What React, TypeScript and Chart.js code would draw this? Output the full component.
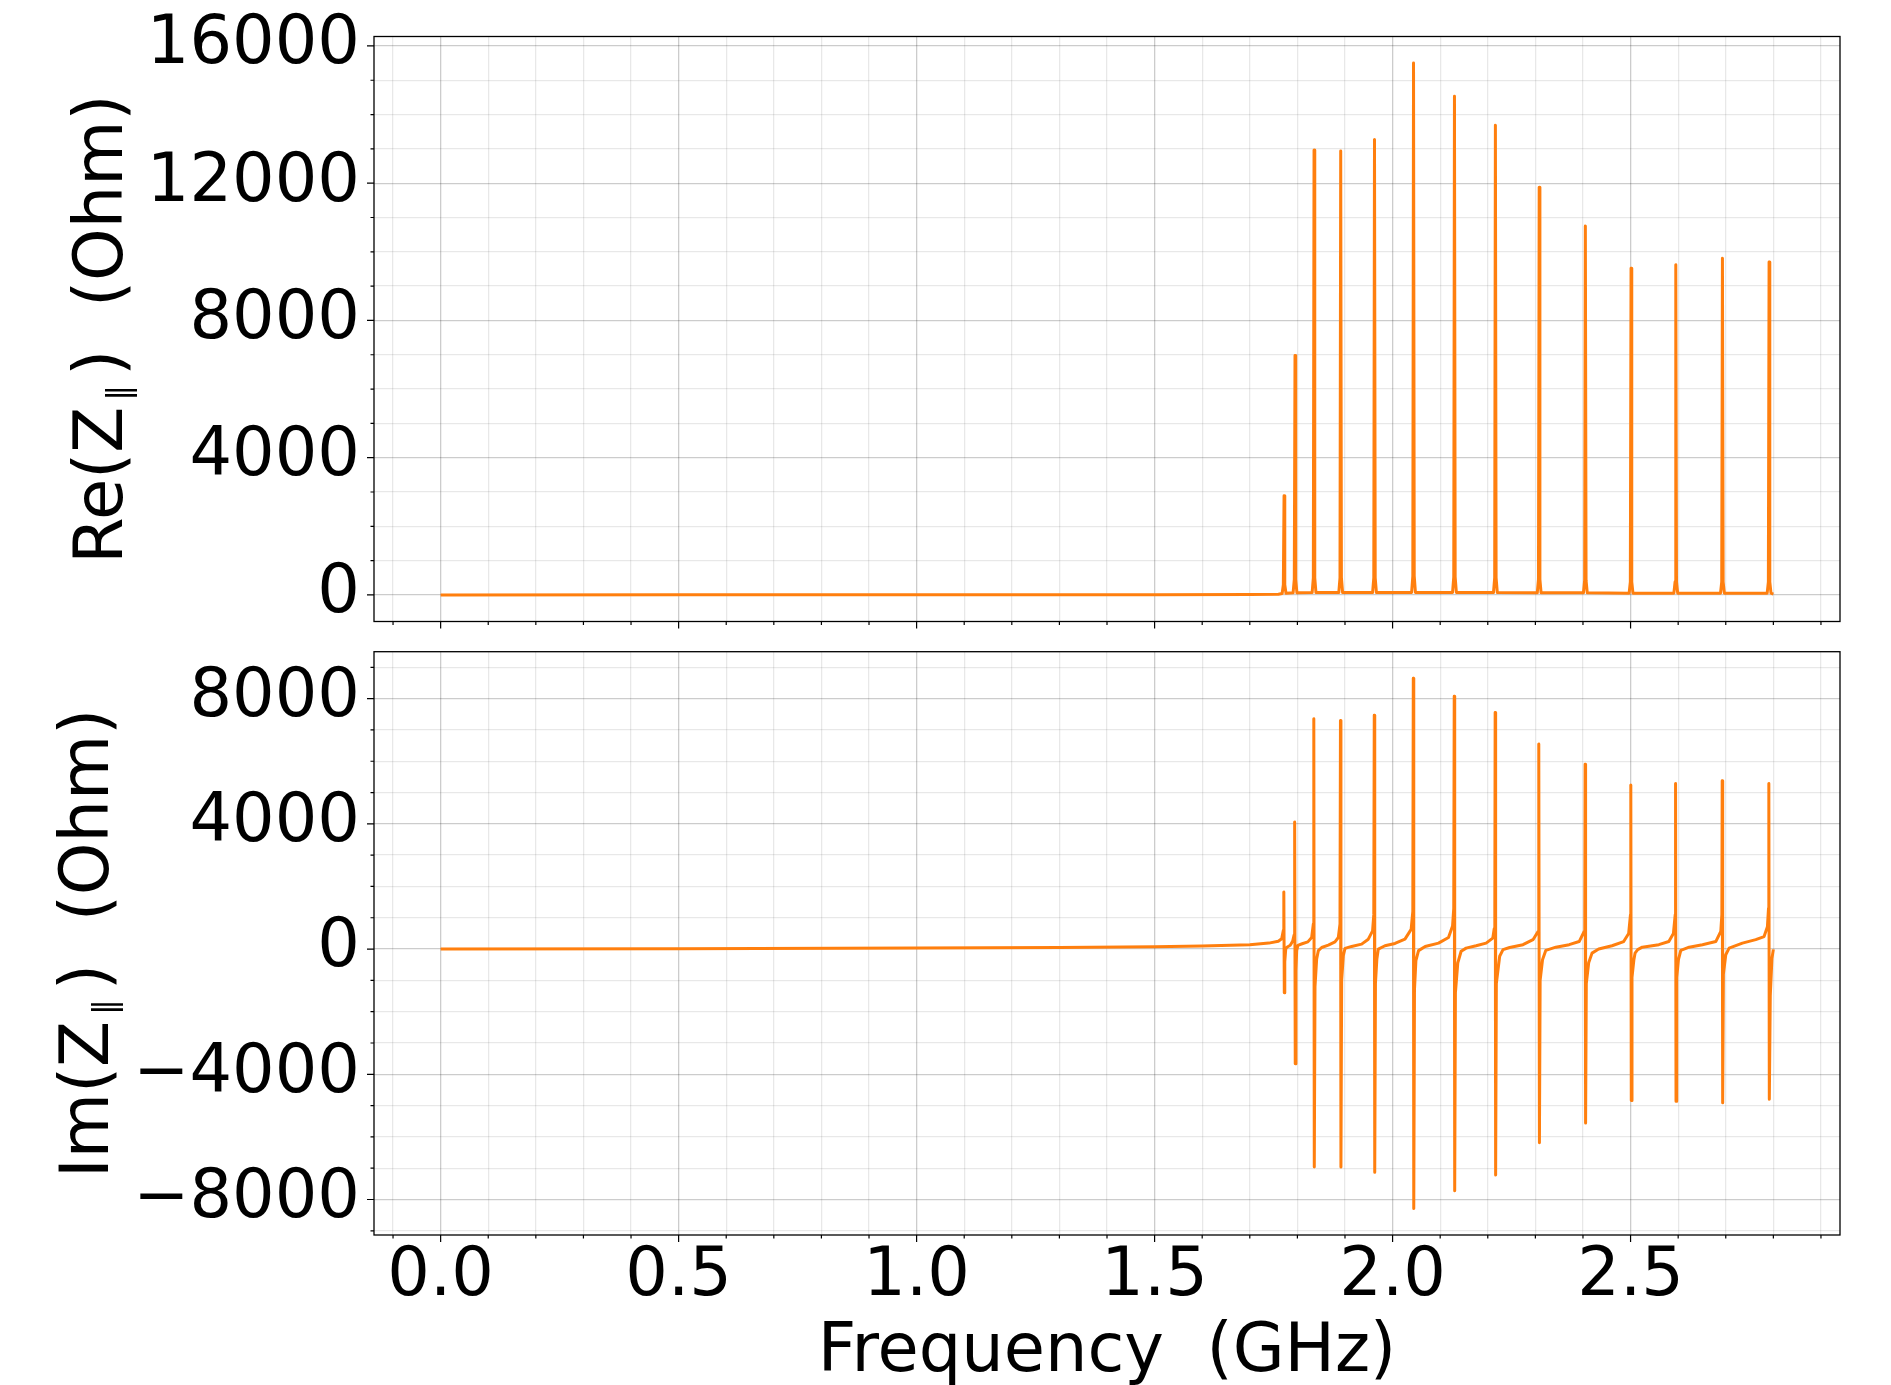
import React, { useEffect, useRef } from 'react';
import { Chart, registerables } from 'chart.js';

Chart.register(...registerables);

const FONT = '"DejaVu Sans", "Liberation Sans", sans-serif';
const LINE_COLOR = '#ff7f0e';

// ---- tick labels ----
const xMajorTicks = [0, 0.5, 1.0, 1.5, 2.0, 2.5];
const xTickLabels = ['0.0', '0.5', '1.0', '1.5', '2.0', '2.5'];
const reMajorTicks = [0, 4000, 8000, 12000, 16000];
const reTickLabels = ['0', '4000', '8000', '12000', '16000'];
const imMajorTicks = [-8000, -4000, 0, 4000, 8000];
const imTickLabels = ['\u22128000', '\u22124000', '0', '4000', '8000'];

// ---- Re(Z) series (GHz, Ohm) ----
const reFreq = [
  0, 0.5, 1.0, 1.5, 1.7, 1.76,
  1.768, 1.7705, 1.772, 1.7735, 1.776,
  1.791, 1.7935, 1.795, 1.7965, 1.799,
  1.831, 1.8335, 1.835, 1.8365, 1.839,
  1.887, 1.8895, 1.891, 1.8925, 1.895,
  1.958, 1.9605, 1.962, 1.9635, 1.966,
  2.040, 2.0425, 2.044, 2.0455, 2.048,
  2.126, 2.1285, 2.130, 2.1315, 2.134,
  2.212, 2.2145, 2.216, 2.2175, 2.220,
  2.304, 2.3065, 2.308, 2.3095, 2.312,
  2.401, 2.4035, 2.405, 2.4065, 2.409,
  2.497, 2.4995, 2.501, 2.5025, 2.505,
  2.591, 2.5935, 2.595, 2.5965, 2.599,
  2.689, 2.6915, 2.693, 2.6945, 2.697,
  2.787, 2.7895, 2.791, 2.7925, 2.795,
  2.8,
];
const reValues = [
  0, 1, 2, 6, 12, 20,
  40, 300, 2890, 300, 50,
  60, 450, 6975, 450, 60,
  70, 500, 12970, 500, 70,
  70, 500, 12935, 500, 70,
  70, 500, 13270, 500, 70,
  70, 550, 15500, 550, 70,
  70, 520, 14530, 520, 70,
  70, 500, 13690, 500, 70,
  60, 450, 11880, 450, 60,
  60, 420, 10750, 420, 60,
  50, 380, 9520, 380, 50,
  50, 380, 9620, 380, 50,
  50, 380, 9810, 380, 50,
  50, 380, 9700, 380, 50,
  20,
];

// ---- Im(Z) series (GHz, Ohm) ----
const imFreq = [
  0, 0.5, 1.0, 1.3, 1.5, 1.6, 1.7, 1.74, 1.76, 1.767, 1.7705,
  1.7715, 1.7725, 1.7735, 1.7755, 1.778, 1.785, 1.790, 1.793, 1.794,
  1.7945, 1.7955, 1.797, 1.7985, 1.801, 1.81, 1.822, 1.830, 1.8335,
  1.8345, 1.8355, 1.837, 1.8405, 1.844, 1.851, 1.865, 1.879, 1.886, 1.8895,
  1.8905, 1.8915, 1.893, 1.8965, 1.900, 1.914, 1.935, 1.949, 1.958, 1.9605,
  1.9615, 1.9625, 1.964, 1.967, 1.970, 1.984, 2.005, 2.026, 2.039, 2.0425,
  2.0435, 2.0445, 2.046, 2.049, 2.0545, 2.0685, 2.0965, 2.1175, 2.126, 2.1285,
  2.1295, 2.1305, 2.132, 2.137, 2.144, 2.1545, 2.1755, 2.1965, 2.2105, 2.2135, 2.2148,
  2.2155, 2.2165, 2.218, 2.225, 2.232, 2.246, 2.274, 2.295, 2.3056, 2.3068,
  2.3075, 2.3085, 2.310, 2.315, 2.322, 2.343, 2.371, 2.392, 2.4025, 2.4038,
  2.4045, 2.4055, 2.407, 2.412, 2.419, 2.433, 2.461, 2.4855, 2.496, 2.4998,
  2.5005, 2.5015, 2.503, 2.507, 2.5094, 2.515, 2.5246, 2.5594, 2.5804, 2.590, 2.5938,
  2.5945, 2.5955, 2.597, 2.6006, 2.6055, 2.623, 2.651, 2.679, 2.6895, 2.6918,
  2.6925, 2.6935, 2.695, 2.700, 2.707, 2.735, 2.763, 2.7805, 2.7875, 2.7898,
  2.7905, 2.7915, 2.7935, 2.797, 2.8,
];
const imValues = [
  0, 10, 30, 50, 75, 100, 140, 190, 250, 330, 600,
  1826, -1398, -400, 0, 60, 120, 250, 450, 900,
  4055, -3665, -700, -50, 120, 170, 230, 370, 800,
  7355, -6965, -1200, -316, -50, 50, 126, 230, 370, 800,
  7305, -6965, -1000, -210, 20, 84, 158, 316, 580, 1100,
  7469, -7128, -1100, -316, 0, 105, 180, 316, 630, 1200,
  8652, -8287, -1300, -370, -50, 84, 190, 370, 737, 1300,
  8073, -7720, -1400, -440, -70, 30, 105, 190, 350, 650, 1300,
  7557, -7217, -1100, -230, -20, 50, 140, 300, 560, 1100,
  6549, -6184, -1000, -340, -40, 60, 140, 240, 560, 1100,
  5907, -5554, -1100, -440, -130, 0, 105, 240, 500, 1100,
  5239, -4836, -900, -340, -130, -20, 60, 140, 240, 500, 1100,
  5290, -4861, -900, -340, -40, 60, 140, 240, 560, 1100,
  5378, -4912, -800, -180, 30, 190, 300, 400, 715, 1300,
  5290, -4798, -1500, -300, -10,
];

function steps(start: number, end: number, step: number): number[] {
  const out: number[] = [];
  const n = Math.round((end - start) / step);
  for (let i = 0; i <= n; i++) out.push(Math.round((start + i * step) * 1e6) / 1e6);
  return out;
}

function majorIndex(list: number[], v: number): number {
  for (let i = 0; i < list.length; i++) if (Math.abs(list[i] - v) < 1e-6) return i;
  return -1;
}

const xAllTicks = steps(-0.1, 2.9, 0.1);

type PanelSpec = {
  freq: number[];
  values: number[];
  yMin: number;
  yMax: number;
  yMajor: number[];
  yLabels: string[];
  yAll: number[];
  showXLabels: boolean;
  padTop: number;
  xAxisHeight: number;
  titleA: string;
  titleB: string;
  titleX: number;
  xTitle?: string;
  xTitleY?: number;
};

function decorPlugin(spec: PanelSpec) {
  return {
    id: 'decor',
    afterDraw(chart: any) {
      const ctx = chart.ctx as CanvasRenderingContext2D;
      const a = chart.chartArea;
      const xs = chart.scales.x;
      const ys = chart.scales.y;
      ctx.save();
      // tick marks
      ctx.strokeStyle = '#000';
      ctx.lineWidth = 1.2;
      ctx.beginPath();
      xs.ticks.forEach((t: any) => {
        const px = xs.getPixelForValue(t.value);
        const len = majorIndex(xMajorTicks, t.value) >= 0 ? 7 : 3.5;
        ctx.moveTo(px, a.bottom);
        ctx.lineTo(px, a.bottom + len);
      });
      ys.ticks.forEach((t: any) => {
        const py = ys.getPixelForValue(t.value);
        const len = majorIndex(spec.yMajor, t.value) >= 0 ? 7 : 3.5;
        ctx.moveTo(a.left, py);
        ctx.lineTo(a.left - len, py);
      });
      ctx.stroke();
      // frame
      ctx.lineWidth = 1.3;
      ctx.strokeRect(a.left, a.top, a.right - a.left, a.bottom - a.top);

      // y title with subscript
      ctx.fillStyle = '#000';
      ctx.textBaseline = 'alphabetic';
      ctx.textAlign = 'left';
      const mainFont = '67px ' + FONT;
      const subFont = '32px ' + FONT;
      ctx.font = mainFont;
      const wA = ctx.measureText(spec.titleA).width;
      const wB = ctx.measureText(spec.titleB).width;
      const subGap = 31;
      const total = wA + subGap + wB;
      const cy = (a.top + a.bottom) / 2;
      ctx.translate(spec.titleX, cy);
      ctx.rotate(-Math.PI / 2);
      const start = -total / 2;
      ctx.fillText(spec.titleA, start, 0);
      ctx.font = subFont;
      ctx.fillText('\u2016', start + wA + 6, 7);
      ctx.font = mainFont;
      ctx.fillText(spec.titleB, start + wA + subGap, 0);
      ctx.setTransform(1, 0, 0, 1, 0, 0);

      if (spec.xTitle) {
        ctx.font = mainFont;
        ctx.textAlign = 'center';
        ctx.fillText(spec.xTitle, (a.left + a.right) / 2, spec.xTitleY as number);
      }
      ctx.restore();
    },
  };
}

function buildChart(canvas: HTMLCanvasElement, spec: PanelSpec) {
  const data = spec.freq.map((f, i) => ({ x: f, y: spec.values[i] }));
  const gridColor = (list: number[]) => (c: any) =>
    c.tick && majorIndex(list, c.tick.value) >= 0 ? 'rgba(0,0,0,0.2)' : 'rgba(0,0,0,0.09)';
  return new Chart(canvas, {
    type: 'line',
    data: {
      datasets: [
        {
          data,
          borderColor: LINE_COLOR,
          backgroundColor: LINE_COLOR,
          borderWidth: 3,
          pointRadius: 0,
          tension: 0,
          fill: false,
          borderJoinStyle: 'round',
        } as any,
      ],
    },
    options: {
      responsive: false,
      animation: false,
      events: [],
      layout: { padding: { left: 0, right: 51, top: spec.padTop, bottom: 0 } },
      plugins: { legend: { display: false }, tooltip: { enabled: false }, title: { display: false } },
      scales: {
        x: {
          type: 'linear',
          min: -0.14,
          max: 2.94,
          afterBuildTicks: (scale: any) => {
            scale.ticks = xAllTicks.map((v) => ({ value: v }));
          },
          afterFit: (scale: any) => {
            scale.height = spec.xAxisHeight;
            scale.paddingLeft = 0;
            scale.paddingRight = 0;
          },
          grid: {
            color: gridColor(xMajorTicks),
            lineWidth: 1.3,
            drawTicks: false,
          },
          border: { display: false },
          ticks: {
            display: spec.showXLabels,
            autoSkip: false,
            maxRotation: 0,
            minRotation: 0,
            padding: 9,
            color: '#000',
            font: { family: FONT, size: 67, lineHeight: 1 },
            callback: (v: any) => {
              const i = majorIndex(xMajorTicks, Number(v));
              return i >= 0 ? xTickLabels[i] : '';
            },
          },
        },
        y: {
          type: 'linear',
          min: spec.yMin,
          max: spec.yMax,
          afterBuildTicks: (scale: any) => {
            scale.ticks = spec.yAll.map((v) => ({ value: v }));
          },
          afterFit: (scale: any) => {
            scale.width = 374;
            scale.paddingTop = 0;
            scale.paddingBottom = 0;
          },
          grid: {
            color: gridColor(spec.yMajor),
            lineWidth: 1.3,
            drawTicks: false,
          },
          border: { display: false },
          ticks: {
            autoSkip: false,
            padding: 14,
            color: '#000',
            font: { family: FONT, size: 67, lineHeight: 1 },
            callback: (v: any) => {
              const i = majorIndex(spec.yMajor, Number(v));
              return i >= 0 ? spec.yLabels[i] : '';
            },
          },
        },
      },
    },
    plugins: [decorPlugin(spec) as any],
  } as any);
}

export default function App() {
  const topRef = useRef<HTMLCanvasElement>(null);
  const botRef = useRef<HTMLCanvasElement>(null);

  useEffect(() => {
    const c1 = buildChart(topRef.current as HTMLCanvasElement, {
      freq: reFreq,
      values: reValues,
      yMin: -775,
      yMax: 16275,
      yMajor: reMajorTicks,
      yLabels: reTickLabels,
      yAll: steps(0, 16000, 1000),
      showXLabels: false,
      padTop: 36.5,
      xAxisHeight: 640 - 621.5,
      titleA: 'Re(Z',
      titleB: ')  (Ohm)',
      titleX: 122,
    });
    const c2 = buildChart(botRef.current as HTMLCanvasElement, {
      freq: imFreq,
      values: imValues,
      yMin: -9134,
      yMax: 9499,
      yMajor: imMajorTicks,
      yLabels: imTickLabels,
      yAll: steps(-9000, 9000, 1000),
      showXLabels: true,
      padTop: 11.7,
      xAxisHeight: 745 - 595,
      titleA: 'Im(Z',
      titleB: ')  (Ohm)',
      titleX: 108,
      xTitle: 'Frequency  (GHz)',
      xTitleY: 731,
    });
    return () => {
      c1.destroy();
      c2.destroy();
    };
  }, []);

  return (
    <div style={{ position: 'absolute', left: 0, top: 0, width: 1891, height: 1385, background: '#fff', overflow: 'hidden' }}>
      <canvas ref={topRef} width={1891} height={640} style={{ position: 'absolute', left: 0, top: 0 }} />
      <canvas ref={botRef} width={1891} height={745} style={{ position: 'absolute', left: 0, top: 640 }} />
    </div>
  );
}
